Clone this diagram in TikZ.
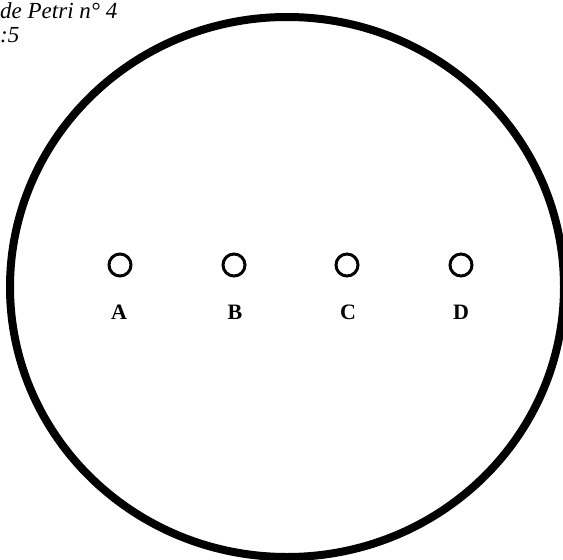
\documentclass[tikz,border=0pt]{standalone}
\usepackage{fontspec}
\setmainfont{Liberation Serif}

\begin{document}
\begin{tikzpicture}[x=1pt, y=-1pt,
    well/.style={draw, circle, line width=3pt, minimum size=22pt, inner sep=0pt},
    lbl/.style={font=\bfseries\fontsize{22}{22}\selectfont, inner sep=0pt}]
  \useasboundingbox (0,0) rectangle (563,560);
  \clip (0,0) rectangle (563,560);

  \coordinate (O) at (287,287);

  % boite
  \draw[line width=8pt] (O) ellipse [x radius=277, y radius=270];

  % trous
  \node[well] (wA) at (120,265) {};
  \node[well] (wB) at (234,265) {};
  \node[well] (wC) at (347,265) {};
  \node[well] (wD) at (461,265) {};

  \node[lbl, anchor=base] (A) at (119,319) {A};
  \node[lbl, anchor=base] (B) at (235,319) {B};
  \node[lbl, anchor=base] (C) at (348,319) {C};
  \node[lbl, anchor=base] (D) at (461,319) {D};

  \node[anchor=base west, inner sep=0pt, font=\itshape\fontsize{23}{23}\selectfont] (t1) at (0,18) {de Petri n° 4};
  \node[anchor=base west, inner sep=0pt, font=\itshape\fontsize{23}{23}\selectfont] (t2) at (0,42) {:5};
\end{tikzpicture}
\end{document}
